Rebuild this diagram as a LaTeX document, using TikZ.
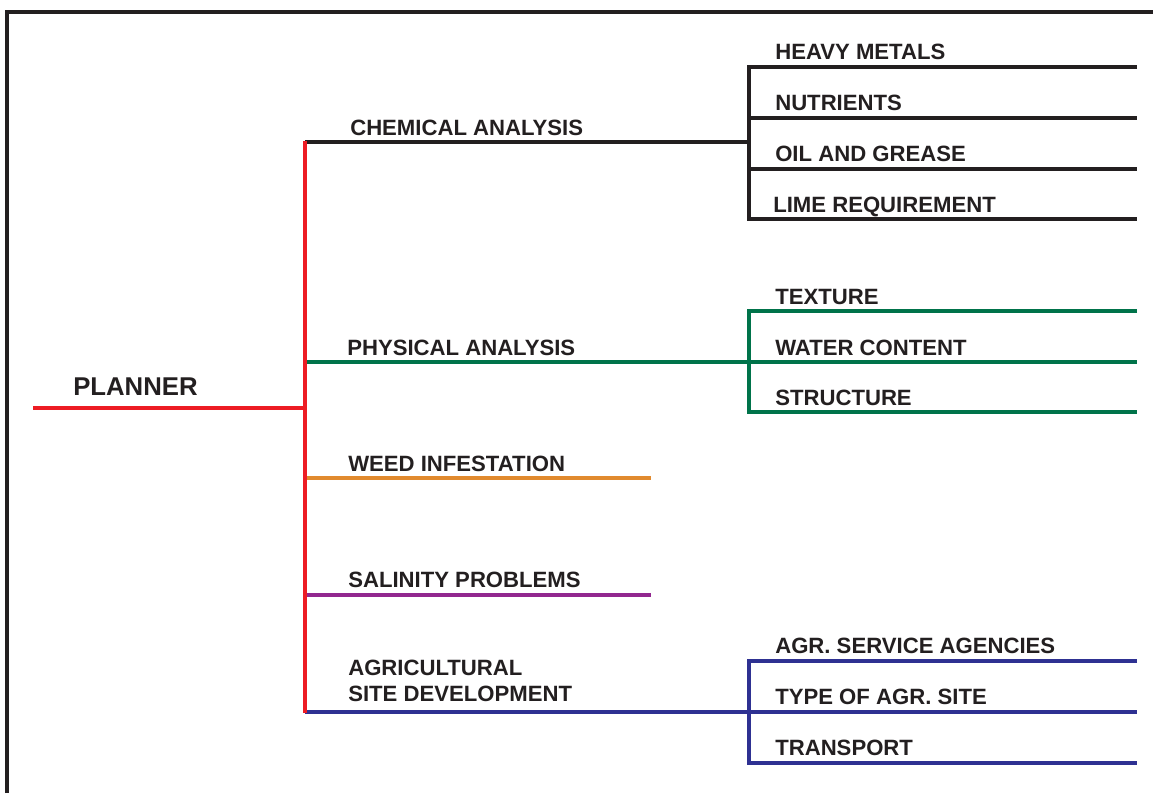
\documentclass[tikz,border=0pt]{standalone}
\usepackage{fontspec}
\setmainfont{Liberation Sans}
\usetikzlibrary{calc,positioning}
\definecolor{inkgray}{HTML}{231F20}
\definecolor{plannerred}{HTML}{ED1C24}
\definecolor{physgreen}{HTML}{00734A}
\definecolor{weedorange}{HTML}{E18A2E}
\definecolor{salinpurple}{HTML}{92278F}
\definecolor{agrblue}{HTML}{2E3192}

\begin{document}
\begin{tikzpicture}[x=0.75pt,y=-0.75pt,every node/.style={font=\bfseries\fontsize{16.6}{19.5}\selectfont,text=inkgray,inner sep=0pt,anchor=base west},branch/.style={line width=2.3pt},spine/.style={line width=3.2pt,plannerred}]
\useasboundingbox (0,0) rectangle (1153,793);
\draw[inkgray,line width=2.3pt] (7,793) |- (1153,12);
% spine and branches
\coordinate (root) at (33,408);\coordinate (hub) at (305,408);
\coordinate (s1) at (305,142);\coordinate (s2) at (305,362);\coordinate (s3) at (305,478);\coordinate (s4) at (305,595);\coordinate (s5) at (305,712);
\coordinate (b1) at (749,142);\coordinate (b2) at (749,362);\coordinate (b3) at (651,478);\coordinate (b4) at (651,595);\coordinate (b5) at (749,712);
\foreach \a/\b/\c in {s1/b1/inkgray,s2/b2/physgreen,s3/b3/weedorange,s4/b4/salinpurple,s5/b5/agrblue}{\draw[branch,\c] (\a)--(\b);}
\draw[spine] (root)--(hub);\draw[spine] ($(s1)+(0,-1)$)--($(s5)+(0,1)$);
% sub branches
\foreach \n/\y in {1/67,2/118,3/169,4/219}{\coordinate (c\n) at (749,\y);\coordinate (ce\n) at (1137,\y);}
\foreach \n/\y in {1/311,2/362,3/412}{\coordinate (p\n) at (749,\y);\coordinate (pe\n) at (1137,\y);}
\foreach \n/\y in {1/661,2/712,3/763}{\coordinate (a\n) at (749,\y);\coordinate (ae\n) at (1137,\y);}
\draw[branch,inkgray] (ce1)--(c1)--(c4)--(ce4);\foreach \n in {2,3}{\draw[branch,inkgray] (c\n)--(ce\n);}
\draw[branch,physgreen] (pe1)--(p1)--(p3)--(pe3);\draw[branch,physgreen] (p2)--(pe2);
\draw[branch,agrblue] (ae1)--(a1)--(a3)--(ae3);\draw[branch,agrblue] (a2)--(ae2);
% labels
\node[font=\bfseries\fontsize{19.3}{23}\selectfont] (planner) at (73,395) {PLANNER};
\node (chem) at (350,135) {CHEMICAL ANALYSIS};\node (phys) at (347,355) {PHYSICAL ANALYSIS};
\node (weed) at (348,471) {WEED INFESTATION};\node (salin) at (348,587) {SALINITY PROBLEMS};
\node[anchor=south west,align=left] (agr) at (348,702) {AGRICULTURAL\\SITE DEVELOPMENT};
\node (heavy) at (775,59) {HEAVY METALS};\node (nutr) at (775,110) {NUTRIENTS};
\node (oil) at (775,161) {OIL AND GREASE};\node (lime) at (773,212) {LIME REQUIREMENT};
\node (text) at (775,304) {TEXTURE};\node (water) at (775,355) {WATER CONTENT};\node (struct) at (775,405) {STRUCTURE};
\node (serv) at (775,653) {AGR. SERVICE AGENCIES};\node (type) at (775,704) {TYPE OF AGR. SITE};\node (trans) at (775,755) {TRANSPORT};
\end{tikzpicture}
\end{document}
